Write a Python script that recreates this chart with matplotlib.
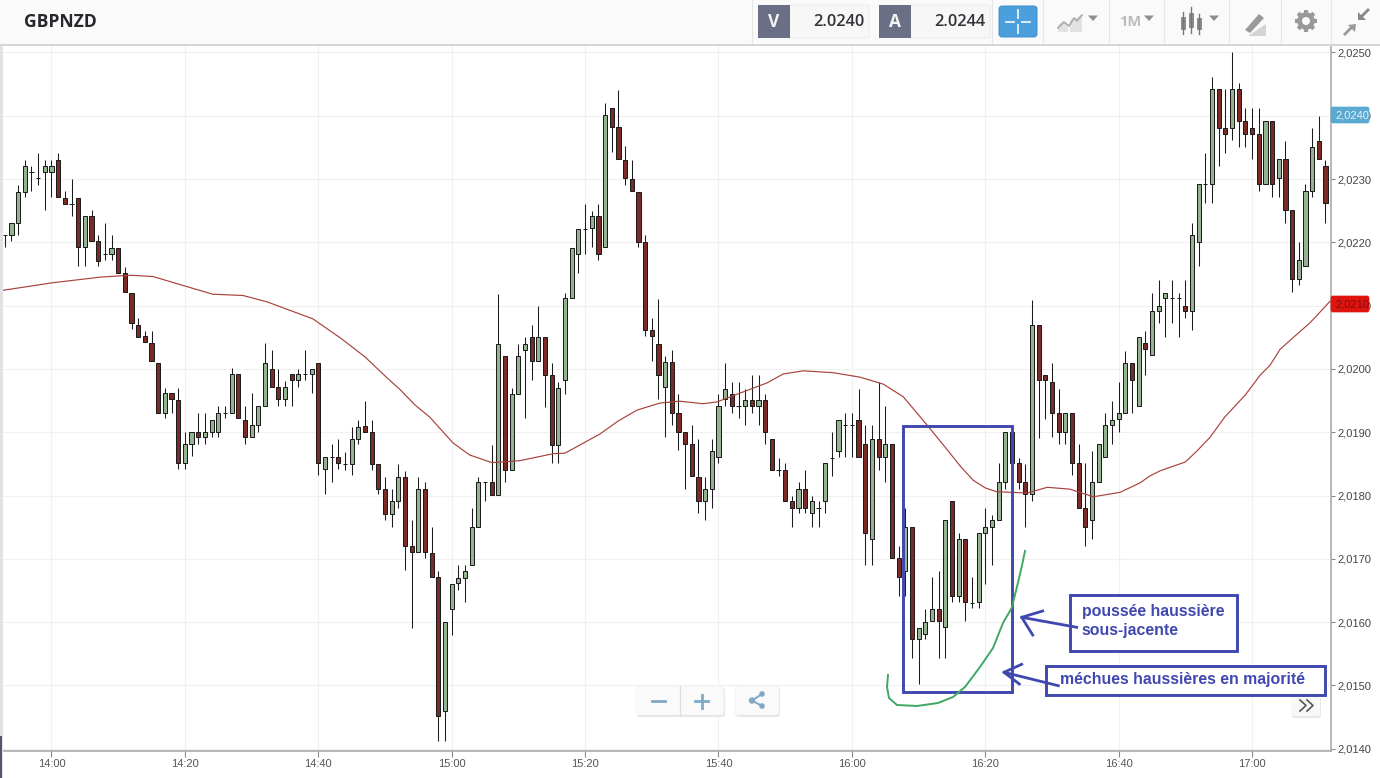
import numpy as np
import matplotlib
matplotlib.use('Agg')
from matplotlib import pyplot as plt
from matplotlib.patches import Rectangle, FancyBboxPatch, Circle, Polygon
from matplotlib.ticker import FuncFormatter

# candle values, in pips above 2.0000, one candle per minute
opens = [
    221.1, 221.2, 223.1, 228.0, 231.1, 230.1, 231.1, 231.1, 233.0, 227.0,
    226.1, 227.0, 219.2, 224.1, 220.2, 218.1, 218.1, 219.1, 215.1, 212.0,
    207.0, 205.2, 204.1, 201.0, 193.1, 196.2, 195.1, 185.2, 188.1, 190.1,
    189.2, 190.1, 190.1, 193.1, 193.1, 199.2, 192.0, 189.2, 191.1, 194.2,
    200.0, 197.1, 195.2, 199.2, 198.2, 199.2, 199.2, 201.0, 184.2, 186.1,
    186.1, 185.0, 185.0, 189.0, 191.0, 190.0, 185.0, 181.0, 177.1, 179.1,
    182.9, 172.0, 171.0, 181.0, 170.9, 167.1, 146.0, 162.1, 166.2, 167.0,
    169.0, 175.0, 182.1, 182.1, 180.1, 202.0, 184.1, 196.1, 203.0, 205.0,
    201.2, 205.0, 199.0, 188.0, 198.2, 211.2, 218.2, 222.1, 222.2, 224.1,
    219.2, 241.2, 238.2, 233.0, 230.0, 228.0, 220.1, 206.1, 204.0, 197.2,
    201.1, 193.1, 190.1, 188.1, 183.0, 179.1, 181.1, 186.1, 195.2, 196.1,
    194.1, 194.1, 195.1, 194.1, 195.1, 189.0, 184.1, 184.1, 179.1, 178.1,
    181.1, 177.2, 178.1, 179.1, 186.0, 187.1, 191.1, 191.1, 192.0, 188.1,
    173.1, 189.0, 186.1, 188.1, 170.1, 168.1, 175.0, 157.3, 158.1, 160.2,
    162.0, 159.2, 179.1, 164.2, 173.1, 163.0, 163.2, 174.1, 175.0, 176.1,
    182.1, 190.0, 185.1, 182.1, 180.2, 206.9, 199.1, 197.9, 193.1, 190.1,
    193.1, 185.1, 178.1, 176.1, 182.1, 186.1, 191.1, 192.1, 193.1, 201.0,
    194.2, 204.1, 202.2, 209.2, 211.2, 211.2, 211.2, 210.0, 209.2, 220.1,
    229.2, 229.2, 244.2, 238.1, 238.1, 244.2, 239.1, 238.1, 237.1, 229.2,
    239.1, 230.1, 233.1, 225.1, 214.2, 216.2, 228.1, 236.0, 232.1,
]
closes = [
    221.1, 223.1, 228.0, 232.1, 231.1, 230.1, 232.1, 232.1, 227.2, 226.1,
    226.1, 219.2, 224.1, 220.2, 217.1, 218.1, 219.1, 215.2, 212.2, 207.2,
    205.1, 204.2, 201.2, 193.1, 196.2, 195.2, 185.2, 188.1, 190.1, 189.2,
    190.1, 192.0, 193.1, 193.1, 199.2, 192.2, 189.2, 191.1, 194.2, 201.0,
    197.1, 195.2, 197.1, 198.2, 199.2, 199.2, 200.0, 185.2, 186.1, 186.1,
    185.2, 185.0, 188.9, 190.9, 190.0, 185.0, 181.0, 177.1, 179.1, 182.9,
    172.0, 171.0, 181.0, 171.0, 167.1, 145.2, 160.0, 166.1, 167.0, 168.0,
    175.0, 182.1, 182.1, 180.1, 203.9, 184.1, 196.1, 202.0, 203.9, 201.2,
    205.0, 199.0, 188.0, 197.0, 211.2, 219.1, 222.1, 222.1, 224.1, 218.2,
    240.1, 238.2, 233.2, 230.1, 228.1, 220.1, 206.2, 205.2, 199.1, 201.1,
    193.1, 190.1, 188.1, 183.1, 179.1, 181.1, 187.1, 194.1, 196.9, 194.1,
    194.1, 195.1, 194.1, 195.1, 190.1, 184.1, 184.1, 179.1, 178.1, 181.1,
    178.1, 179.1, 178.1, 185.1, 186.0, 192.0, 191.1, 191.1, 186.1, 174.1,
    189.0, 186.1, 188.1, 170.1, 167.1, 175.0, 157.3, 159.0, 160.0, 162.0,
    160.2, 176.1, 164.2, 173.1, 163.2, 163.0, 174.0, 175.0, 176.1, 182.1,
    190.0, 185.1, 182.1, 180.2, 206.9, 198.2, 198.2, 193.1, 190.1, 193.1,
    185.1, 178.1, 175.0, 182.1, 188.1, 191.1, 192.0, 193.1, 201.0, 198.2,
    205.1, 203.2, 209.1, 210.0, 212.0, 211.2, 211.2, 209.2, 221.1, 229.2,
    229.2, 244.2, 238.1, 237.1, 244.2, 239.2, 237.1, 237.1, 229.2, 239.1,
    229.2, 233.1, 225.1, 214.2, 217.2, 228.1, 235.1, 233.1, 226.2,
]
highs = [
    221.1, 223.1, 229.1, 233.0, 232.1, 234.1, 233.0, 233.0, 234.1, 228.1,
    230.0, 227.0, 224.1, 225.1, 221.1, 223.1, 221.1, 219.1, 216.1, 212.0,
    208.1, 206.0, 206.0, 201.0, 197.0, 196.2, 197.0, 190.1, 190.1, 193.1,
    193.1, 192.0, 194.2, 194.2, 200.1, 199.2, 194.2, 196.2, 194.2, 204.1,
    203.0, 200.0, 198.1, 199.2, 200.0, 203.0, 200.0, 201.0, 186.1, 188.1,
    189.0, 186.9, 190.9, 191.9, 194.9, 191.9, 185.0, 182.9, 181.0, 185.0,
    183.9, 176.1, 182.9, 182.1, 175.0, 168.0, 160.0, 166.1, 169.0, 169.0,
    178.0, 182.9, 182.1, 188.0, 211.8, 202.0, 197.0, 203.9, 205.0, 206.9,
    210.0, 205.0, 200.9, 197.9, 212.0, 219.1, 222.1, 226.1, 225.0, 226.1,
    242.0, 241.2, 244.1, 235.2, 233.0, 228.0, 221.1, 208.1, 211.1, 202.0,
    203.0, 196.1, 190.1, 191.1, 189.0, 183.0, 189.0, 196.1, 201.0, 198.0,
    198.0, 196.9, 199.0, 199.0, 196.1, 189.0, 186.0, 185.1, 180.0, 182.2,
    184.1, 180.0, 179.1, 185.1, 190.1, 192.0, 193.1, 193.1, 196.9, 191.1,
    191.1, 197.9, 194.1, 188.1, 172.0, 178.0, 175.0, 159.0, 162.0, 167.1,
    168.0, 176.1, 179.1, 174.0, 173.1, 167.1, 174.0, 178.0, 177.0, 185.1,
    190.0, 190.0, 185.9, 185.0, 210.9, 206.9, 199.1, 200.9, 196.9, 193.1,
    193.1, 188.1, 185.1, 187.0, 188.1, 193.0, 195.0, 197.9, 202.9, 201.0,
    205.1, 206.0, 212.0, 214.1, 212.0, 214.1, 212.0, 214.1, 223.1, 229.2,
    234.1, 246.1, 244.2, 244.2, 250.0, 245.1, 241.2, 241.2, 241.2, 239.1,
    239.1, 233.1, 236.0, 225.1, 220.1, 229.2, 238.1, 240.0, 233.0,
]
lows = [
    219.3, 220.2, 221.2, 227.2, 228.1, 229.1, 225.1, 227.2, 227.2, 226.1,
    224.2, 216.3, 216.3, 220.2, 216.3, 217.2, 217.2, 215.2, 212.2, 206.3,
    205.1, 204.2, 201.2, 193.1, 192.2, 193.1, 184.2, 184.2, 186.3, 188.1,
    188.1, 189.2, 189.2, 192.2, 193.1, 192.2, 188.1, 189.2, 190.1, 194.2,
    197.1, 194.2, 194.2, 194.2, 197.1, 198.2, 196.2, 183.2, 180.2, 182.2,
    184.2, 184.0, 183.2, 188.2, 190.0, 184.1, 180.2, 176.1, 175.0, 178.0,
    168.2, 159.1, 171.0, 170.1, 167.1, 141.2, 141.2, 158.0, 165.1, 163.2,
    169.0, 175.0, 179.1, 180.1, 180.1, 182.1, 184.1, 196.1, 192.2, 198.2,
    201.2, 194.0, 185.1, 185.1, 196.1, 211.2, 215.2, 218.2, 219.2, 217.2,
    219.2, 234.2, 233.2, 229.1, 228.1, 219.3, 205.2, 201.3, 195.2, 189.2,
    191.1, 187.2, 181.1, 183.1, 177.2, 176.1, 178.1, 185.2, 194.1, 193.1,
    192.2, 191.1, 193.1, 191.1, 188.2, 184.1, 183.1, 179.1, 175.1, 177.2,
    177.2, 175.1, 175.1, 177.2, 183.1, 186.1, 186.1, 186.1, 186.1, 169.1,
    169.1, 184.1, 182.1, 170.1, 164.2, 164.2, 154.3, 150.2, 157.3, 160.2,
    154.3, 154.3, 163.2, 163.2, 160.2, 162.2, 162.2, 166.1, 169.1, 176.1,
    181.1, 185.1, 181.1, 175.1, 179.1, 189.1, 192.1, 189.2, 188.2, 188.2,
    183.2, 178.1, 172.0, 173.1, 182.1, 186.1, 188.1, 190.0, 193.1, 193.1,
    194.2, 199.0, 202.2, 207.2, 205.1, 207.2, 205.1, 208.1, 206.2, 216.2,
    226.2, 226.2, 232.1, 234.1, 236.2, 235.1, 235.1, 233.1, 228.1, 229.2,
    227.2, 227.2, 223.1, 212.2, 213.3, 216.2, 227.2, 233.1, 223.1,
]
first_minute = -7   # first candle, minutes after 14:00

# moving average line
ma_minutes = [
    -7.7, 0.1, 7.3, 11.8, 15.2, 20.3, 24.2, 28.7, 32.3, 39.2, 43.3, 47.0, 50.3,
    52.2, 54.5, 56.7, 60.2, 62.7, 66.0, 70.2, 75.2, 77.0, 82.2, 85.0, 87.8,
    91.2, 94.2, 97.7, 99.8, 107.3, 109.7, 112.7, 117.2, 121.2, 124.7, 127.7,
    131.3, 134.7, 136.2, 138.2, 140.0, 141.7, 146.3, 149.3, 152.7, 156.2,
    160.2, 163.2, 164.7, 166.2, 170.0, 171.7, 173.7, 175.9, 179.0, 181.2,
    182.7, 184.2, 186.1, 188.7, 191.7,
]
ma_values = [
    212.35, 213.6, 214.5, 214.8, 214.6, 213.0, 211.8, 211.6, 210.6, 207.9,
    204.9, 201.9, 198.6, 196.8, 194.3, 192.4, 188.3, 186.4, 185.2, 185.5,
    186.6, 186.7, 189.7, 191.8, 193.5, 194.6, 194.9, 194.5, 194.8, 197.8,
    199.2, 199.7, 199.4, 198.7, 197.6, 195.6, 191.1, 186.7, 184.7, 182.4,
    181.2, 180.6, 180.4, 181.3, 181.0, 179.8, 180.5, 182.0, 183.1, 183.9,
    185.3, 187.0, 189.2, 192.4, 195.9, 199.0, 200.6, 203.1, 204.9, 207.3,
    210.7,
]

time_ticks = [0, 20, 40, 60, 80, 100, 120, 140, 160, 180]
time_labels = ['14:00', '14:20', '14:40', '15:00', '15:20', '15:40',
               '16:00', '16:20', '16:40', '17:00']
price_ticks = [140, 150, 160, 170, 180, 190, 200, 210, 220, 230, 240, 250]
bid_price = '2.0240'
ask_price = '2.0244'

GREEN = '#96b391'
RED = '#7a2b25'
EDGE = '#1c1c1c'
BLUE = '#4048b0'
SANS = 'Liberation Sans'

plt.rcParams['font.family'] = SANS


def to_price(v):
    return 2.0 + np.asarray(v, dtype=float) / 10000


fig = plt.figure(figsize=(13.8, 7.78), dpi=100, facecolor='white')

# chart area, x in minutes after 14:00
ax = fig.add_axes([0, 27 / 778, 1331 / 1380, 706 / 778])
ax.set_xlim(-7.72, 191.83)
ax.set_ylim(to_price(139.64), to_price(251.17))
ax.grid(True, color='#f0f0f0', linewidth=0.8)
ax.set_axisbelow(True)

minutes = first_minute + np.arange(len(opens))
o = to_price(opens)
c = to_price(closes)
colors = [GREEN if b >= a else RED for a, b in zip(o, c)]
ax.vlines(minutes, to_price(lows), to_price(highs), color=EDGE, linewidth=0.75, zorder=3)
ax.bar(minutes, np.abs(c - o), width=0.62, bottom=np.minimum(o, c), color=colors,
       edgecolor=EDGE, linewidth=0.72, zorder=4)
ax.plot(ma_minutes, to_price(ma_values), color='#a8423c', linewidth=0.85, zorder=5)

ax.set_xticks(time_ticks)
ax.set_xticklabels(time_labels)
ax.set_yticks(to_price(price_ticks))
ax.yaxis.set_major_formatter(FuncFormatter(lambda v, pos: f'{v:.4f}'.replace('.', ',')))
ax.yaxis.tick_right()
ax.tick_params(axis='x', length=4, width=0.8, color='#888888', labelcolor='#555555',
               labelsize=8.0, pad=1.5)
ax.tick_params(axis='y', length=3, width=0.8, color='#888888', labelcolor='#444444',
               labelsize=8.0, pad=1.5)
for s in ['top', 'left']:
    ax.spines[s].set_visible(False)
for s in ['right', 'bottom']:
    ax.spines[s].set_color('#aaaaaa')
    ax.spines[s].set_linewidth(1.2)

# overlay in image pixels for the toolbar, buttons and hand drawn notes
ov = fig.add_axes([0, 0, 1, 1], facecolor='none', zorder=10)
ov.set_xlim(0, 1380)
ov.set_ylim(778, 0)
ov.axis('off')


def box(x0, y0, x1, y1, **kw):
    ov.add_patch(Rectangle((x0, y0), x1 - x0, y1 - y0, **kw))


def rbox(x0, y0, x1, y1, r=2, **kw):
    ov.add_patch(FancyBboxPatch((x0 + r, y0 + r), x1 - x0 - 2 * r, y1 - y0 - 2 * r,
                                boxstyle=f'round,pad={r},rounding_size={r}', **kw))


def caret(x, y):
    ov.add_patch(Polygon([(x - 5, y - 2.5), (x + 5, y - 2.5), (x, y + 3)], color='#8f8f8f', lw=0))


# left strip
box(0, 45, 3, 778, color='#e2e2e2', lw=0)
box(0, 736, 1.5, 778, color='#555566', lw=0)

# toolbar
box(0, 0, 1380, 44, color='#fafafa', lw=0)
box(0, 43.5, 1380, 45.5, color='#d6d6d6', lw=0)
for x in [752, 992, 1043, 1109, 1164, 1229, 1281, 1331]:
    ov.plot([x, x], [0, 43], color='#e6e6e6', lw=0.8)
ov.text(24, 21.5, 'GBPNZD', family='Open Sans', weight='bold', fontsize=12.6,
        color='#26262c', va='center')

for x0, letter, price in [(758, 'V', bid_price), (879, 'A', ask_price)]:
    rbox(x0 + 30, 5, x0 + 111, 38, r=2, fc='#f7f7f7', ec='#ececec', lw=0.7)
    box(x0, 5, x0 + 32, 38, color='#6a6f85', lw=0)
    ov.text(x0 + 16, 22, letter, family='Open Sans', weight='bold', fontsize=12.5,
            color='#f4f4f4', ha='center', va='center')
    ov.text(x0 + 106, 22, price, family='Open Sans', weight='semibold', fontsize=11.8,
            color='#33333a', ha='right', va='center')

rbox(999, 6, 1037, 37, r=3, fc='#4a9fdc', ec='#3f8fc9', lw=0.7)
for a, b in [((1006, 21.5), (1014, 21.5)), ((1022, 21.5), (1030, 21.5)),
             ((1018, 10), (1018, 18)), ((1018, 25), (1018, 33))]:
    ov.plot([a[0], b[0]], [a[1], b[1]], color='#e8f4fb', lw=1.3)

# chart type icon
ov.add_patch(Polygon([(1058, 32), (1058, 25), (1063, 21), (1068, 25), (1068, 32)], color='#e2e2e2', lw=0))
ov.add_patch(Polygon([(1070, 32), (1070, 20), (1082, 15), (1082, 32)], color='#e2e2e2', lw=0))
ov.plot([1058, 1064, 1069, 1074, 1077, 1082], [28, 22, 26, 18, 21, 15], color='#aaaaaa', lw=1.2)
caret(1093, 18)

ov.text(1130, 22, '1M', family='Open Sans', weight='bold', fontsize=10.5, color='#bcbcbc',
        ha='center', va='center')
caret(1149, 18)

# candle icon
for x, top, bot, w0, w1 in [(1183, 17, 29, 12, 34), (1191, 13, 27, 7, 33), (1199, 18, 29, 14, 34)]:
    ov.plot([x, x], [w0, w1], color='#777777', lw=1.0)
    box(x - 2.2, top, x + 2.2, bot, fc='#8a8a8a', ec='#777777', lw=0.5)
caret(1214, 18)

# drawing tool icon
ov.add_patch(Polygon([(1245, 30), (1259, 14), (1264, 18), (1250, 33)], color='#9a9a9a', lw=0))
ov.add_patch(Polygon([(1248, 36), (1266, 36), (1266, 24)], color='#d4d4d4', lw=0))

# gear icon
angles = np.arange(8) * np.pi / 4
for ang in angles:
    ov.plot([1306 + 6 * np.cos(ang), 1306 + 11 * np.cos(ang)],
            [21 + 6 * np.sin(ang), 21 + 11 * np.sin(ang)], color='#999999', lw=3, solid_capstyle='butt')
ov.add_patch(Circle((1306, 21), 6.4, fc='none', ec='#999999', lw=3.4))

# collapse icon
ov.add_patch(Polygon([(1345, 36), (1352, 29), (1355, 32), (1356, 24), (1348, 25), (1350, 27), (1343, 34)],
                     color='#9a9a9a', lw=0))
ov.add_patch(Polygon([(1368, 8), (1361, 15), (1358, 12), (1358, 20), (1366, 20), (1363, 17), (1370, 10)],
                     color='#8a8a8a', lw=0))

# price tags on the axis
for y0, label, bg, fg in [(107, '2,0240', '#5aa9d0', '#e8f4fa'), (296, '2,0210', '#e0140f', '#7a1010')]:
    rbox(1331, y0, 1369, y0 + 16, r=2, fc=bg, ec=bg, lw=0.5)
    ov.text(1335, y0 + 8.5, label, fontsize=8.0, color=fg, va='center')

# zoom and share buttons
rbox(637, 687, 725, 717, r=3, fc='#e6e6e6', ec='none', lw=0)
rbox(636, 686, 724, 715, r=3, fc='#fafafa', ec='#f0f0f0', lw=0.5)
ov.plot([679.5, 679.5], [686, 715], color='#dddddd', lw=0.9)
rbox(736, 687, 780, 717, r=3, fc='#e6e6e6', ec='none', lw=0)
rbox(735, 686, 779, 715, r=3, fc='#fafafa', ec='#f0f0f0', lw=0.5)
ov.plot([652, 665], [701, 701], color='#7fa9c7', lw=2)
ov.plot([695, 708], [701, 701], color='#7fa9c7', lw=2)
ov.plot([701.5, 701.5], [694.5, 707.5], color='#7fa9c7', lw=2)
ov.plot([762, 752, 762], [694, 700.5, 706], color='#7fa9c7', lw=1.4)
for x, y, r in [(762, 694, 2.8), (752, 700.5, 3.2), (762, 706, 2.8)]:
    ov.add_patch(Circle((x, y), r, color='#7fa9c7', lw=0))

rbox(1292, 698, 1321, 718, r=2, fc='#e8e8e8', ec='none', lw=0)
rbox(1291, 697, 1320, 716, r=2, fc='#f8f8f8', ec='none', lw=0)
ov.plot([1300, 1306, 1300], [700, 705.5, 711], color='#555555', lw=1.2)
ov.plot([1307, 1313, 1307], [700, 705.5, 711], color='#555555', lw=1.2)

# hand drawn green curve
curve_x = [1025, 1021.7, 1016.7, 1011.7, 1003, 993, 980, 965, 953, 938, 917, 897, 889, 887, 888]
curve_y = [551, 566.7, 588, 608, 623, 648, 667, 687, 697, 703, 706, 705, 698, 687, 675]
ov.plot(curve_x, curve_y, color='#3fa862', lw=1.4)

# hand drawn boxes and arrows
box(903, 426, 1012, 692, fc='none', ec=BLUE, lw=2.1)
box(1070, 594.5, 1236.5, 651, fc='white', ec=BLUE, lw=2.1)
box(1046, 666, 1325, 695, fc='white', ec=BLUE, lw=2.1)
for pts in [[(1076.7, 627.3), (1021.7, 617.3)], [(1042.7, 611), (1021.7, 617.3), (1032.7, 635)],
            [(1058.3, 685.7), (1004, 672.3)], [(1021.7, 664.3), (1004, 672.3), (1019.3, 684)]]:
    ov.plot([p[0] for p in pts], [p[1] for p in pts], color=BLUE, lw=2.0)
ov.text(1081.5, 611.5, 'poussée haussière', weight='bold', fontsize=11.45, color=BLUE, va='center')
ov.text(1081.5, 630.5, 'sous-jacente', weight='bold', fontsize=11.45, color=BLUE, va='center')
ov.text(1060, 679.5, 'méchues haussières en majorité', weight='bold', fontsize=11.45, color=BLUE, va='center')

fig.savefig('out.png', dpi=100)
